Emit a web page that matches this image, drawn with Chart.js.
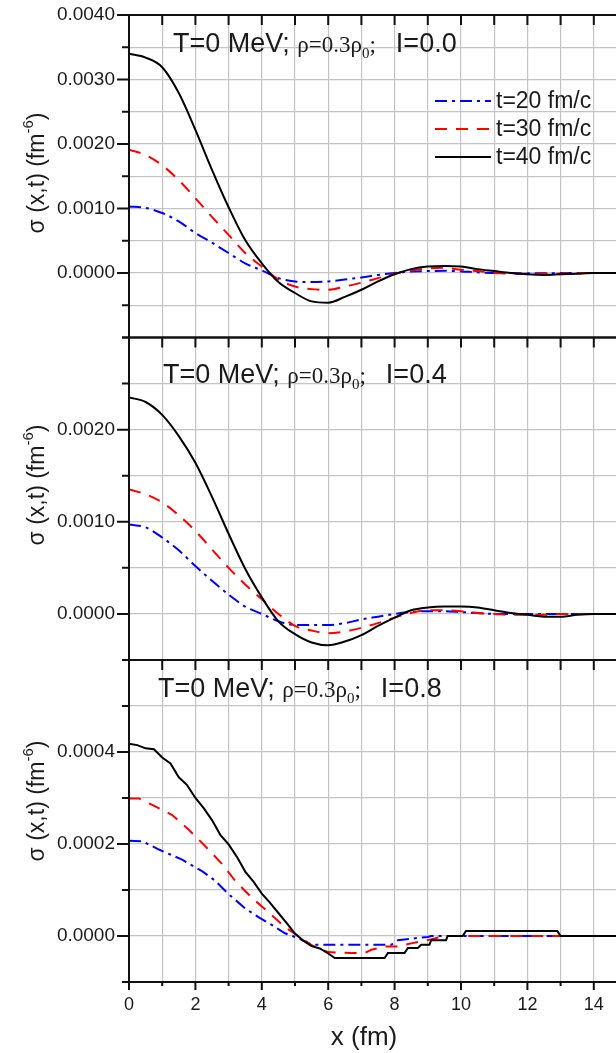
<!DOCTYPE html>
<html>
<head>
<meta charset="utf-8">
<script src="https://cdn.jsdelivr.net/npm/chart.js@4"></script>
<style>
  body { margin: 0; background: #fff; overflow: hidden; }
  #wrap { position: relative; width: 616px; height: 1053px; overflow: hidden; }
  canvas { position: absolute; left: 0; }
</style>
</head>
<body>
<div id="wrap">
  <canvas id="p1" width="640" height="383" style="top:-15px"></canvas>
  <canvas id="p2" width="640" height="383" style="top:307px"></canvas>
  <canvas id="p3" width="640" height="423" style="top:630px"></canvas>
</div>
<script>
// series labels
const seriesLabels = ["t=20 fm/c", "t=30 fm/c", "t=40 fm/c"];
const isospin = ["0.0", "0.4", "0.8"];

// x grid used by the smooth panels (fm)
const xSmooth = [0, 0.5, 1, 1.5, 2, 2.5, 3, 3.5, 4, 4.5, 5, 5.5, 6, 6.5, 7, 7.5,
  8, 8.5, 9, 9.5, 10, 10.5, 11, 11.5, 12, 12.5, 13, 13.5, 14, 14.5, 15];

// panel 1, I=0.0  (values in 1e-3 fm^-6)
const blue1 = [1.03, 1.01, 0.93, 0.80, 0.62, 0.47, 0.31, 0.15, 0.04, -0.08, -0.13, -0.14, -0.13, -0.10, -0.07, -0.03,
  0, 0.025, 0.03, 0.035, 0.025, 0.01, 0, 0, -0.005, -0.005, 0, 0, 0, 0, 0];
const red1 = [1.91, 1.83, 1.67, 1.44, 1.16, 0.87, 0.59, 0.31, 0.10, -0.10, -0.21, -0.25, -0.26, -0.21, -0.15, -0.08,
  -0.01, 0.04, 0.07, 0.08, 0.05, 0.03, 0, -0.01, -0.01, -0.01, -0.01, 0, 0, 0, 0];
const black1 = [3.40, 3.34, 3.19, 2.79, 2.22, 1.60, 1.02, 0.51, 0.15, -0.14, -0.31, -0.44, -0.46, -0.37, -0.26, -0.13,
  -0.02, 0.06, 0.10, 0.11, 0.10, 0.06, 0.03, 0, -0.02, -0.03, -0.02, -0.01, 0, 0, 0];

// panel 2, I=0.4  (values in 1e-3 fm^-6)
const blue2 = [0.97, 0.94, 0.83, 0.69, 0.52, 0.36, 0.21, 0.08, 0, -0.08, -0.12, -0.12, -0.12, -0.10, -0.06, -0.03,
  0, 0.02, 0.03, 0.03, 0.02, 0.01, 0, 0, 0, 0, 0, 0, 0, 0, 0];
const red2 = [1.35, 1.30, 1.21, 1.07, 0.90, 0.70, 0.50, 0.32, 0.16, 0, -0.13, -0.18, -0.21, -0.19, -0.15, -0.10,
  -0.04, 0.01, 0.04, 0.04, 0.03, 0.01, 0, -0.01, -0.01, -0.01, 0, 0, 0, 0, 0];
const black2 = [2.35, 2.30, 2.16, 1.93, 1.64, 1.27, 0.87, 0.49, 0.18, -0.08, -0.22, -0.31, -0.34, -0.30, -0.23, -0.13,
  -0.04, 0.04, 0.07, 0.08, 0.08, 0.07, 0.04, 0.01, -0.01, -0.03, -0.03, -0.01, 0, 0, 0];

// panel 3, I=0.8  (values in 1e-4 fm^-6, stepped curves)
const xBlue3 = [0, 0.4, 0.9, 1.6, 2.2, 2.6, 3.0, 3.5, 3.9, 4.3, 4.7, 5.1, 5.5, 7.9, 8.1, 9.0, 9.1, 15];
const blue3 = [2.07, 2.06, 1.88, 1.66, 1.41, 1.2, 0.91, 0.6, 0.41, 0.24, 0.06, -0.05, -0.19, -0.19, -0.09, -0.02, 0, 0];
const xRed3 = [0, 0.3, 0.7, 1.3, 1.8, 2.3, 2.8, 3.2, 3.7, 4.2, 4.7, 5.1, 5.5, 6.0, 6.7, 7.1, 7.3, 7.7, 8.1, 8.5, 9.0, 9.5, 13, 15];
const red3 = [2.99, 2.99, 2.85, 2.63, 2.31, 1.95, 1.57, 1.2, 0.83, 0.52, 0.19, 0, -0.2, -0.35, -0.37, -0.37, -0.3, -0.23,
  -0.23, -0.16, -0.09, 0, 0, 0];
const xBlack3 = [0, 0.25, 0.5, 0.75, 1, 1.25, 1.5, 1.75, 2, 2.25, 2.5, 2.75, 3, 3.25, 3.5, 3.75, 4, 4.25, 4.5, 4.75,
  5, 5.25, 5.5, 5.75, 6, 6.2, 7.7, 7.8, 8.3, 8.4, 8.7, 8.8, 9.05, 9.1, 9.55, 9.6, 10.05, 10.15, 12.9, 13, 15];
const black3 = [4.18, 4.15, 4.08, 4.06, 3.88, 3.75, 3.45, 3.28, 3.0, 2.78, 2.52, 2.2, 1.99, 1.72, 1.4, 1.18, 0.92, 0.72,
  0.5, 0.28, 0.05, -0.1, -0.22, -0.27, -0.38, -0.48, -0.48, -0.37, -0.37, -0.26, -0.26, -0.19, -0.19, -0.09, -0.09,
  0, 0, 0.11, 0.11, 0, 0];

// tick labels
const xLabels = [0, 2, 4, 6, 8, 10, 12, 14];
const yLabels1 = [0, 0.001, 0.002, 0.003, 0.004];
const yLabels2 = [0, 0.001, 0.002];
const yLabels3 = [0, 0.0002, 0.0004];

const SANS = '"Liberation Sans", Arial, sans-serif';
const SERIF = '"Liberation Serif", "Times New Roman", serif';
const TXT = "#1a1a1a";
const GRID = "#c4c4c4";
const STYLES = [
  { color: "#0000ff", dash: [12, 5, 3, 5], order: 2 },
  { color: "#ff0000", dash: [12, 9], order: 1 },
  { color: "#000000", dash: [], order: 0 },
];

const series = (i, xs, ys, unit, smooth) => ({
  label: seriesLabels[i],
  data: xs.map((x, k) => ({ x: x, y: ys[k] * unit })),
  borderColor: STYLES[i].color,
  borderDash: STYLES[i].dash,
  borderWidth: 2,
  pointRadius: 0,
  fill: false,
  tension: 0,
  cubicInterpolationMode: smooth ? "monotone" : "default",
  order: STYLES[i].order,
});

const drawNote = (ctx, x, y, iso) => {
  let cx = x;
  const seg = (txt, font, dy) => {
    ctx.font = font;
    ctx.fillText(txt, cx, y + (dy || 0));
    cx += ctx.measureText(txt).width;
  };
  seg("T=0 MeV; ", "27px " + SANS);
  seg("ρ=0.3ρ", "23px " + SERIF);
  seg("0", "15px " + SERIF, 6);
  seg(";", "23px " + SERIF);
  cx += 20;
  seg("I=" + iso, "27px " + SANS);
};

const drawYTitle = (ctx, cx, cy) => {
  const f1 = "23px " + SANS, f2 = "15px " + SANS;
  ctx.save();
  ctx.translate(cx, cy);
  ctx.rotate(-Math.PI / 2);
  ctx.font = f1;
  const w1 = ctx.measureText("σ (x,t) (fm").width;
  const w3 = ctx.measureText(")").width;
  ctx.font = f2;
  const w2 = ctx.measureText("-6").width;
  let x0 = -(w1 + w2 + w3) / 2;
  ctx.font = f1;
  ctx.fillText("σ (x,t) (fm", x0, 0);
  ctx.font = f2;
  ctx.fillText("-6", x0 + w1, -11);
  ctx.font = f1;
  ctx.fillText(")", x0 + w1 + w2, 0);
  ctx.restore();
};

const deco = {
  id: "deco",
  afterDraw(chart, args, o) {
    const { ctx, chartArea: a, scales: { x, y } } = chart;
    ctx.save();
    // frame and tick marks
    ctx.strokeStyle = "#111";
    ctx.lineWidth = 2;
    ctx.setLineDash([]);
    ctx.beginPath();
    ctx.moveTo(a.right, a.top);
    ctx.lineTo(a.left, a.top);
    ctx.lineTo(a.left, a.bottom);
    ctx.lineTo(a.right, a.bottom);
    y.ticks.forEach((t) => {
      const py = y.getPixelForValue(t.value);
      const len = t.label ? 12 : 7;
      ctx.moveTo(a.left - len, py);
      ctx.lineTo(a.left, py);
    });
    x.ticks.forEach((t) => {
      const px = x.getPixelForValue(t.value);
      ctx.moveTo(px, a.top);
      ctx.lineTo(px, a.top + 10);
      if (o.bottomTicks) {
        ctx.moveTo(px, a.bottom);
        ctx.lineTo(px, a.bottom + (t.value % 2 === 0 ? 8 : 4));
      }
    });
    ctx.stroke();

    ctx.fillStyle = TXT;
    ctx.textAlign = "left";
    ctx.textBaseline = "alphabetic";
    drawNote(ctx, o.noteX, o.noteY, o.iso);
    drawYTitle(ctx, 44, o.titleY);

    if (o.xTitle) {
      ctx.font = "26px " + SANS;
      ctx.textAlign = "center";
      ctx.fillText("x (fm)", 364, o.xTitle);
    }

    if (o.legendY) {
      chart.data.datasets.forEach((ds, i) => {
        const ly = o.legendY + i * 28;
        ctx.strokeStyle = ds.borderColor;
        ctx.lineWidth = 2;
        ctx.setLineDash(ds.borderDash);
        ctx.beginPath();
        ctx.moveTo(435, ly);
        ctx.lineTo(491, ly);
        ctx.stroke();
        ctx.setLineDash([]);
        ctx.font = "23px " + SANS;
        ctx.textAlign = "left";
        ctx.textBaseline = "middle";
        ctx.fillStyle = TXT;
        ctx.fillText(ds.label, 496, ly + 1);
      });
    }
    ctx.restore();
  },
};

const makePanel = (id, cfg) => new Chart(document.getElementById(id), {
  type: "line",
  data: { datasets: cfg.datasets },
  options: {
    responsive: false,
    animation: false,
    layout: { padding: cfg.padding },
    plugins: { legend: { display: false }, tooltip: { enabled: false }, deco: cfg.deco },
    scales: {
      x: {
        type: "linear", min: 0, max: 15,
        afterFit: (s) => { s.height = cfg.xHeight; },
        border: { display: false },
        grid: { color: GRID, lineWidth: 1.2, drawTicks: false },
        ticks: {
          display: cfg.showX, stepSize: 1, padding: 12, autoSkip: false, maxRotation: 0,
          color: TXT, font: { size: 18, family: SANS },
          callback: (v) => (xLabels.includes(v) ? String(v) : ""),
        },
      },
      y: {
        type: "linear", min: cfg.min, max: cfg.max,
        afterFit: (s) => { s.width = 129; },
        border: { display: false },
        grid: { color: GRID, lineWidth: 1.2, drawTicks: false },
        ticks: {
          stepSize: cfg.step, padding: 14, autoSkip: false,
          color: TXT, font: { size: 19, family: SANS, lineHeight: 1.2 },
          callback: (v) => (cfg.labels.some((l) => Math.abs(l - v) < cfg.step / 100) ? v.toFixed(4) : ""),
        },
      },
    },
  },
  plugins: [deco],
});

// canvases start 30 px above their plot area (label half-height + tick padding is 25.4)
makePanel("p1", {
  datasets: [series(0, xSmooth, blue1, 1e-3, true), series(1, xSmooth, red1, 1e-3, true), series(2, xSmooth, black1, 1e-3, true)],
  padding: { top: 30, bottom: 30.5, left: 0, right: 13 },
  min: -0.001, max: 0.004, step: 0.0005, labels: yLabels1,
  showX: false, xHeight: 0,
  deco: { iso: isospin[0], noteX: 173, noteY: 67, titleY: 188, legendY: 116 },
});

makePanel("p2", {
  datasets: [series(0, xSmooth, blue2, 1e-3, true), series(1, xSmooth, red2, 1e-3, true), series(2, xSmooth, black2, 1e-3, true)],
  padding: { top: 30.5, bottom: 30, left: 0, right: 13 },
  min: -0.0005, max: 0.003, step: 0.0005, labels: yLabels2,
  showX: false, xHeight: 0,
  deco: { iso: isospin[1], noteX: 163, noteY: 76, titleY: 178 },
});

makePanel("p3", {
  datasets: [series(0, xBlue3, blue3, 1e-4, false), series(1, xRed3, red3, 1e-4, false), series(2, xBlack3, black3, 1e-4, false)],
  padding: { top: 30, bottom: 0, left: 0, right: 13 },
  min: -0.0001, max: 0.0006, step: 0.0001, labels: yLabels3,
  showX: true, xHeight: 71,
  deco: { iso: isospin[2], noteX: 158, noteY: 67, titleY: 171, bottomTicks: true, xTitle: 415 },
});
</script>
</body>
</html>
